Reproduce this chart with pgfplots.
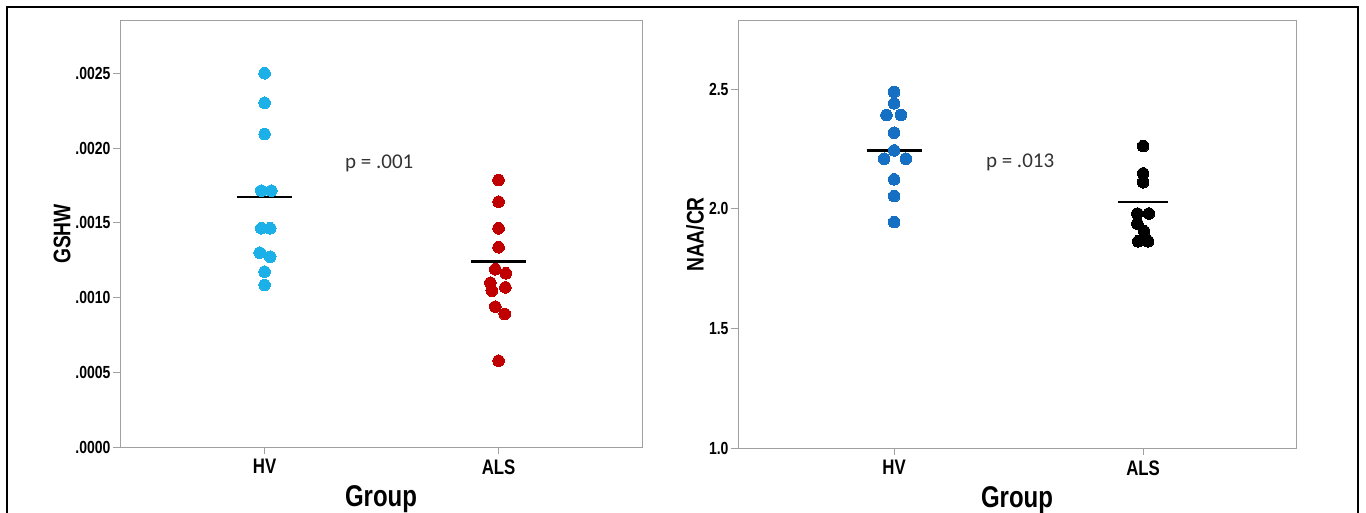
\documentclass[border=0pt]{standalone}
\usepackage{fontspec}
\setmainfont{Liberation Sans}
\newfontfamily\nar[FakeStretch=0.8]{Liberation Sans}
\newfontfamily\pfont{Carlito}
\usepackage{pgfplots}
\pgfplotsset{compat=1.18}
\definecolor{hvL}{HTML}{1CB0E8}
\definecolor{alsL}{HTML}{C00000}
\definecolor{hvR}{HTML}{1570C4}
\definecolor{alsR}{HTML}{000000}
\definecolor{axgray}{HTML}{A0A0A0}
\begin{document}
\begin{tikzpicture}
\pgfplotsset{
 myax/.style={
  scale only axis, anchor=south west,
  axis line style={draw=axgray, line width=1pt},
  tick style={draw=axgray, line width=0.8pt},
  tick align=outside, major tick length=7pt,
  xtick pos=bottom, ytick pos=left,
  scaled y ticks=false,
  xtick={1,2}, xticklabels={HV,ALS},
  yticklabel style={font=\nar\bfseries\fontsize{17.5}{17.5}\selectfont, xshift=1pt},
  xticklabel style={font=\nar\bfseries\fontsize{21}{21}\selectfont, yshift=-2pt},
  xlabel={Group}, xlabel style={font=\nar\bfseries\fontsize{30}{30}\selectfont, yshift=-4pt},
  ylabel style={font=\nar\bfseries\fontsize{24}{24}\selectfont, yshift=-2pt},
  clip=false,
 },
 dots/.style={only marks, mark=*, mark size=5.8pt, mark options={draw=#1, fill=#1, line width=0pt}},
 mean/.style={black, line width=2.5pt, no marks},
}
% ---------------- left panel ----------------
\begin{axis}[myax, at={(120pt,65pt)}, width=522pt, height=426pt,
  xmin=0.382, xmax=2.613, ymin=0, ymax=0.00285,
  ytick={0,0.0005,0.001,0.0015,0.002,0.0025},
  yticklabels={.0000,.0005,.0010,.0015,.0020,.0025},
  ylabel={GSHW}]
\addplot[dots=hvL] coordinates {
 (1,0.002500) (1,0.002303) (1,0.002094)
 (0.986,0.001715) (1.029,0.001715)
 (0.986,0.001463) (1.024,0.001463)
 (0.979,0.001300) (1.024,0.001273)
 (1,0.001173) (1,0.001084)
};
\addplot[dots=alsL] coordinates {
 (2,0.001786) (2,0.001641) (2,0.001463) (2,0.001336)
 (1.986,0.001189) (2.031,0.001162)
 (1.965,0.001099) (2.029,0.001068) (1.971,0.001046)
 (1.986,0.000939) (2.026,0.000890)
 (2,0.000577)
};
\addplot[mean] coordinates {(0.883,0.001674) (1.117,0.001674)};
\addplot[mean] coordinates {(1.883,0.001240) (2.117,0.001240)};
\node[font=\pfont\fontsize{21}{21}\selectfont, text=black!80] at (axis cs:1.49,0.00190) {p = .001};
\end{axis}
% ---------------- right panel ----------------
\begin{axis}[myax, at={(738pt,64pt)}, width=558pt, height=427pt,
  xmin=0.373, xmax=2.614, ymin=1.0, ymax=2.785,
  ytick={1.0,1.5,2.0,2.5},
  yticklabels={1.0,1.5,2.0,2.5},
  ylabel={NAA/CR}]
\addplot[dots=hvR] coordinates {
 (1,2.488) (1,2.441)
 (0.969,2.392) (1.027,2.392)
 (1,2.318) (1,2.244)
 (0.960,2.209) (1.047,2.209)
 (1,2.123) (1,2.053) (1,1.944)
};
\addplot[dots=alsR] coordinates {
 (2,2.262) (2,2.148) (2,2.111)
 (1.977,1.980) (2.023,1.980)
 (1.977,1.938) (2.004,1.906)
 (1.980,1.864) (2.020,1.864)
};
\addplot[mean] coordinates {(0.89,2.244) (1.11,2.244)};
\addplot[mean] coordinates {(1.90,2.028) (2.10,2.028)};
\node[font=\pfont\fontsize{21}{21}\selectfont, text=black!80] at (axis cs:1.506,2.195) {p = .013};
\end{axis}
\draw[line width=2pt] (7pt,-30pt) rectangle (1358pt,505pt);
\pgfresetboundingbox
\useasboundingbox (0pt,0pt) rectangle (1366pt,512pt);
\end{tikzpicture}
\end{document}
